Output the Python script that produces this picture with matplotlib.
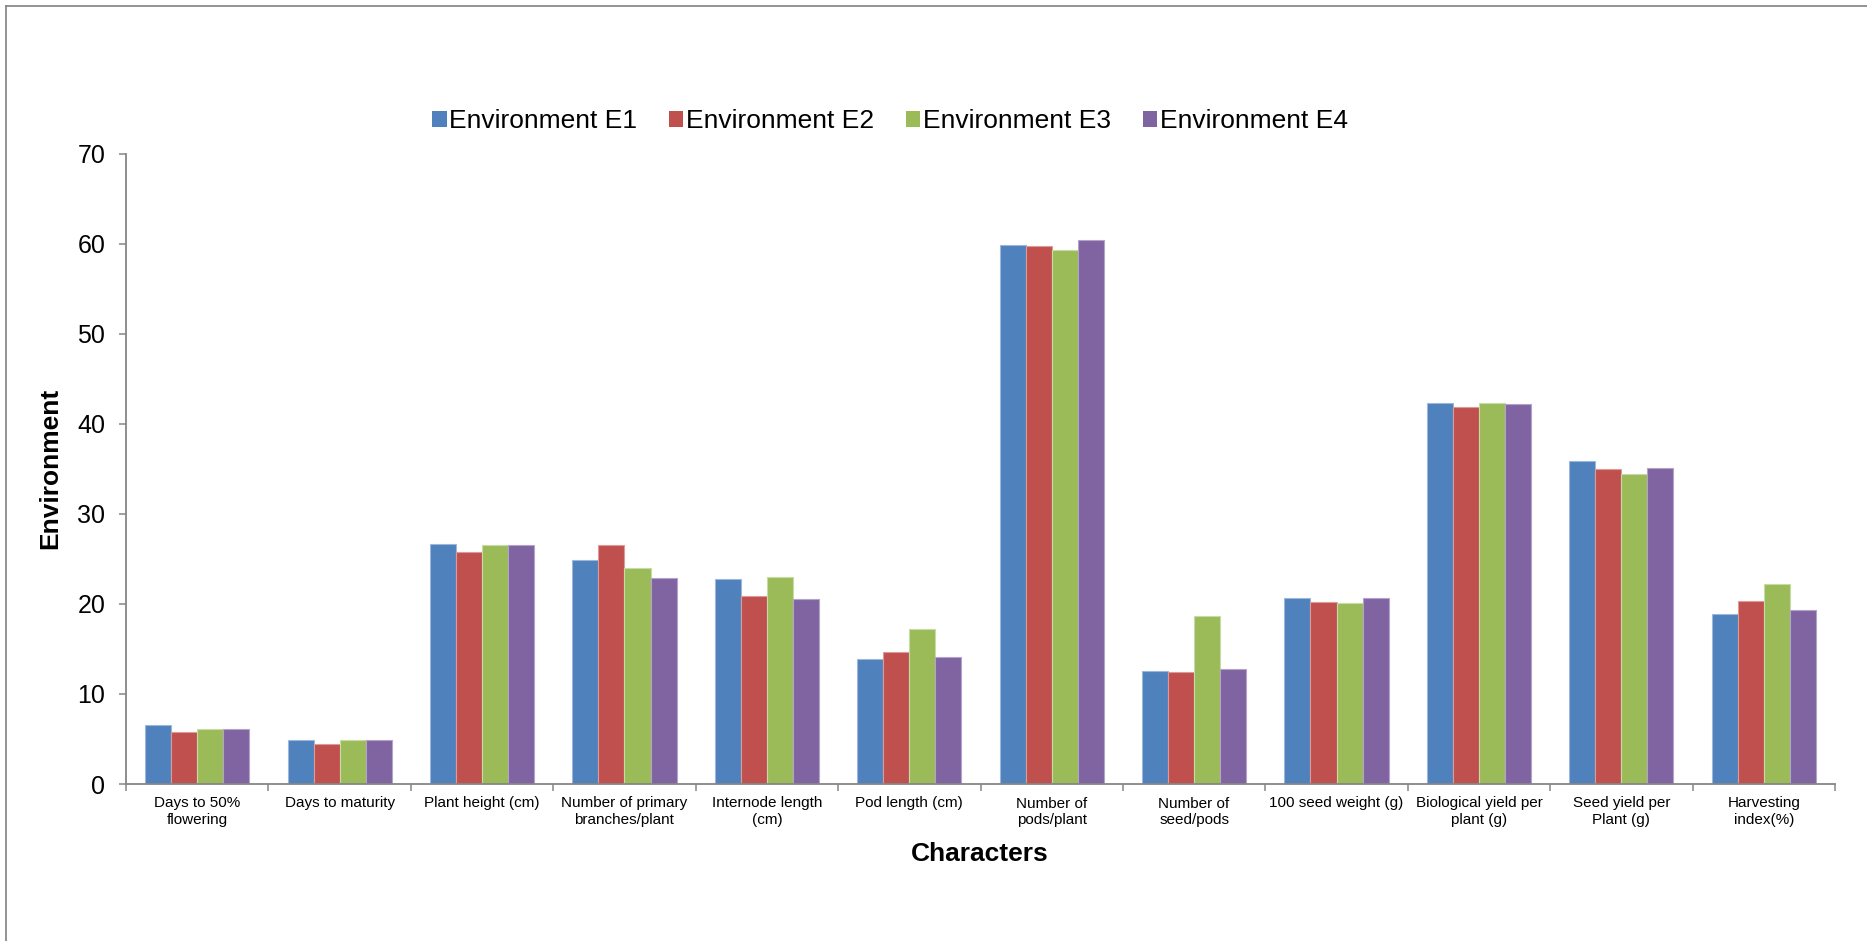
import numpy as np
import matplotlib.pyplot as plt
from matplotlib.lines import Line2D
from matplotlib.patches import Patch

plt.rcParams['font.family'] = ['Liberation Sans', 'DejaVu Sans']

characters = ['Days to 50%\nflowering', 'Days to maturity', 'Plant height (cm)',
              'Number of primary\nbranches/plant', 'Internode length\n(cm)',
              'Pod length (cm)', 'Number of\npods/plant', 'Number of\nseed/pods',
              '100 seed weight (g)', 'Biological yield per\nplant (g)',
              'Seed yield per\nPlant (g)', 'Harvesting\nindex(%)']

env_e1 = [6.5, 4.9, 26.6, 24.9, 22.8, 13.9, 59.8, 12.6, 20.6, 42.3, 35.9, 18.9]
env_e2 = [5.8, 4.4, 25.8, 26.5, 20.9, 14.6, 59.7, 12.4, 20.2, 41.9, 35.0, 20.3]
env_e3 = [6.1, 4.9, 26.5, 24.0, 23.0, 17.2, 59.3, 18.7, 20.1, 42.3, 34.4, 22.2]
env_e4 = [6.1, 4.9, 26.5, 22.9, 20.5, 14.1, 60.4, 12.8, 20.6, 42.2, 35.1, 19.3]

series = ['Environment E1', 'Environment E2', 'Environment E3', 'Environment E4']
colors = ['#4F81BD', '#C0504D', '#9BBB59', '#8064A2']
edges = ['#9DB7DA', '#DC9A98', '#C7DBA5', '#B3A2C9']

W, H = 1867, 941
fig = plt.figure(figsize=(W / 100, H / 100), dpi=100)
ax = fig.add_axes([126 / W, 1 - 784 / H, (1835 - 126) / W, (784 - 153.5) / H])

x = np.arange(len(characters))
bw = 0.183
for i, vals in enumerate([env_e1, env_e2, env_e3, env_e4]):
    ax.bar(x + (i - 1.5) * bw, vals, bw, color=colors[i],
           edgecolor=edges[i], linewidth=0.8, label=series[i], zorder=2)

ax.set_xlim(-0.5, len(characters) - 0.5)
ax.set_ylim(0, 70)
ax.set_yticks(range(0, 71, 10))
ax.tick_params(axis='y', labelsize=18, length=5, width=1.1, color='#868686', pad=10,
               direction='out')

ax.set_xticks(x)
ax.set_xticklabels(characters, fontsize=11, linespacing=1.2)
ax.set_xticks(np.arange(-0.5, len(characters)), minor=True)
ax.tick_params(axis='x', which='major', length=0, pad=9)
ax.tick_params(axis='x', which='minor', length=5, width=1.1, color='#868686',
               direction='out')

for side in ['top', 'right']:
    ax.spines[side].set_visible(False)
for side in ['left', 'bottom']:
    ax.spines[side].set_color('#868686')
    ax.spines[side].set_linewidth(1.3)

fig.text(50 / W, 1 - 468 / H, 'Environment', rotation=90, ha='center', va='center',
         fontsize=19, fontweight='bold')
fig.text(980 / W, 1 - 854 / H, 'Characters', ha='center', va='center',
         fontsize=19, fontweight='bold')

handles = [Patch(facecolor=c) for c in colors]
fig.legend(handles, series, loc='center', bbox_to_anchor=(890 / W, 1 - 121 / H),
           ncol=4, frameon=False, fontsize=19, handlelength=0.55, handleheight=0.55,
           handletextpad=0.1, columnspacing=1.2, borderaxespad=0, borderpad=0)

# outer frame, only the top and left edges fall inside the canvas
fig.add_artist(Line2D([6 / W, 6 / W], [0, 1 - 6 / H], transform=fig.transFigure,
                      color='#8A8A8A', linewidth=1.3))
fig.add_artist(Line2D([6 / W, 1], [1 - 6 / H, 1 - 6 / H], transform=fig.transFigure,
                      color='#8A8A8A', linewidth=1.3))

fig.savefig('out.png', dpi=100, facecolor='white')
